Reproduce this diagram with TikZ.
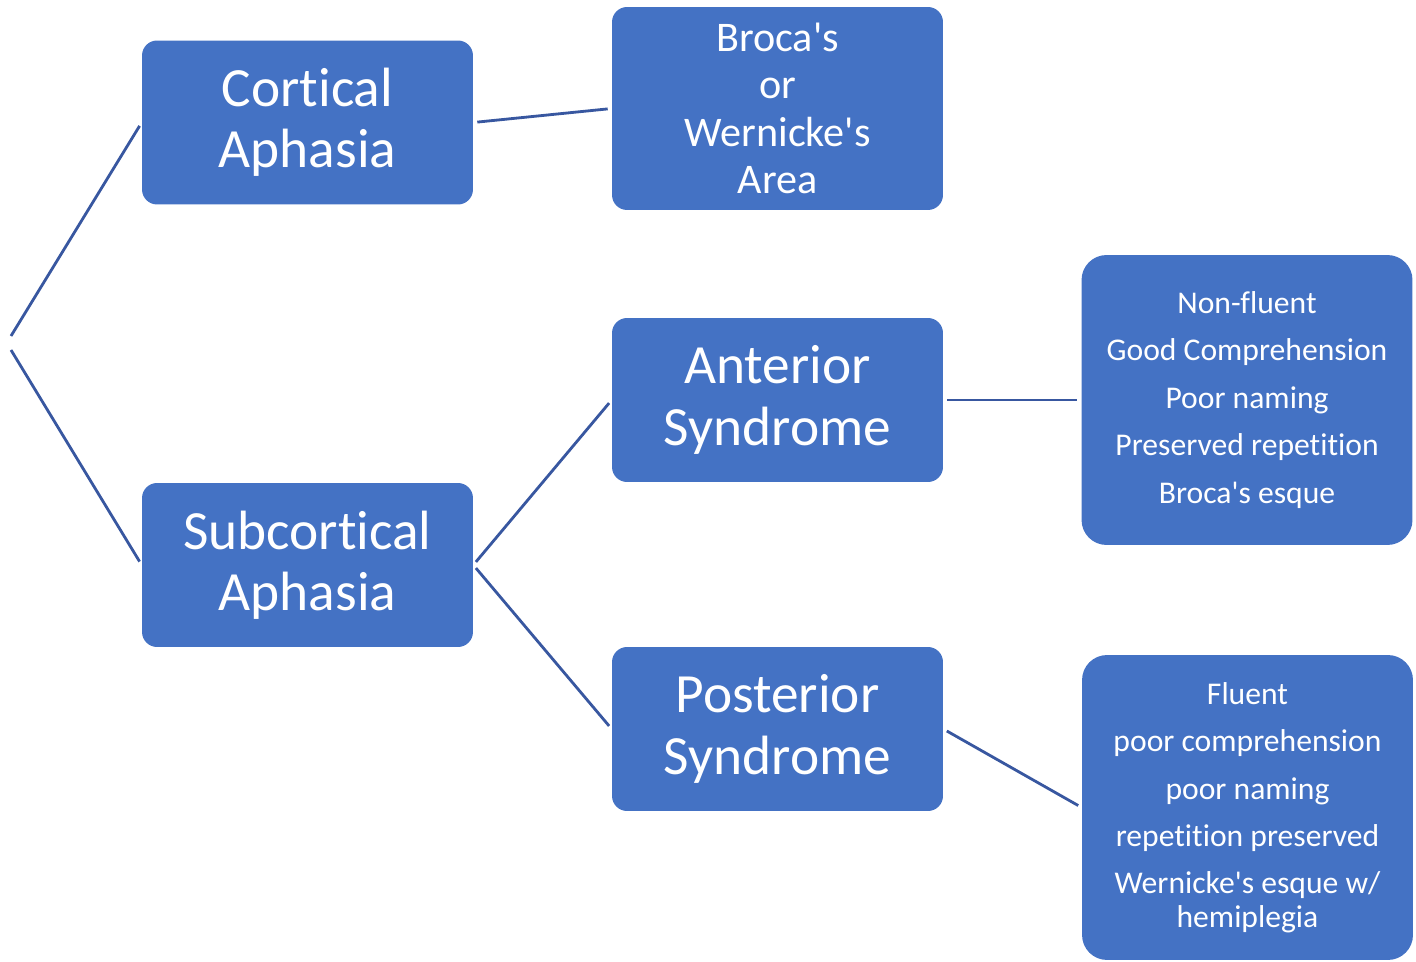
\documentclass[tikz,border=0pt]{standalone}
\usepackage{fontspec}
\setmainfont{Carlito}[Ligatures={NoCommon},Mapping=]
\usetikzlibrary{positioning}
\definecolor{boxblue}{RGB}{68,114,196}
\definecolor{linkblue}{RGB}{56,87,160}

\begin{document}
\begin{tikzpicture}[x=0.02cm,y=-0.02cm,
				box/.style={rounded corners=0.3cm,fill=boxblue,text=white,
					align=center,minimum width=6.62cm,minimum height=3.28cm,inner sep=2pt},
				big/.style={box,font=\fontsize{31.5}{35}\selectfont},
				mid/.style={box,font=\fontsize{24}{27}\selectfont,minimum height=4.06cm},
				list/.style={box,rounded corners=0.5cm,font=\fontsize{18}{19}\selectfont},
				link/.style={draw=linkblue,line width=1.6pt,shorten <=0.08cm,shorten >=0.08cm}]
				\useasboundingbox (0,0) rectangle (1416,962);
				\coordinate (rootA) at (11,336);
				\coordinate (rootB) at (11,350);
				\node[big] (cortical) at (307.5,122.5) {Cortical\\Aphasia};
				\node[big] (subcortical) at (307.5,565) {Subcortical\\Aphasia};
				\node[mid] (broca) at (777.5,108.5) {Broca's\\or\\Wernicke's\\Area};
				\node[big] (anterior) at (777.5,400) {Anterior\\Syndrome};
				\node[big] (posterior) at (777.5,729) {Posterior\\Syndrome};
				\node[list,minimum height=5.8cm] (antfeat) at (1247,400)
					{Non-fluent\\[8pt]Good Comprehension\\[8pt]Poor naming\\[8pt]Preserved repetition\\[8pt]Broca's esque};
				\node[list,minimum height=6.1cm] (postfeat) at (1247.5,807.5)
					{Fluent\\[8pt]poor comprehension\\[8pt]poor naming\\[8pt]repetition preserved\\[8pt]Wernicke's esque w/\\hemiplegia};
				\draw[link,shorten >=0pt] (cortical.west) -- (rootA);
				\draw[link,shorten >=0pt] (subcortical.west) -- (rootB);
				\draw[link] (cortical.east) -- (broca.west);
				\draw[link] (subcortical.east) -- (anterior.west);
				\draw[link] (subcortical.east) -- (posterior.west);
				\draw[link] (anterior.east) -- (antfeat.west);
				\draw[link] (posterior.east) -- (postfeat.west);
			\end{tikzpicture}
\end{document}
